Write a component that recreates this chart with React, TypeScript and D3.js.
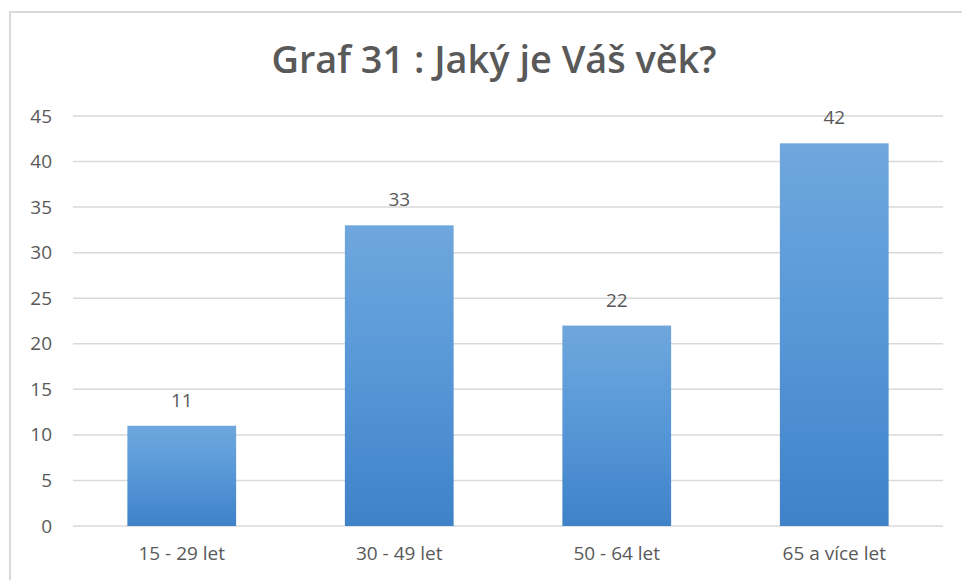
import React, { useRef, useEffect } from 'react';
import * as d3 from 'd3';

const categories = ['15 - 29 let', '30 - 49 let', '50 - 64 let', '65 a více let'];
const values = [11, 33, 22, 42];
const yTicks = [0, 5, 10, 15, 20, 25, 30, 35, 40, 45];
const title = 'Graf 31 : Jaký je Váš věk?';

const W = 962;
const H = 580;

const App = () => {
  const svgRef = useRef<SVGSVGElement>(null);

  useEffect(() => {
    const svg = d3.select(svgRef.current);
    svg.selectAll('*').remove();

    const margin = { top: 116, right: 19, bottom: 54, left: 73 };
    const width = W - margin.left - margin.right;
    const height = H - margin.top - margin.bottom;
    const font = "'Open Sans', 'Liberation Sans', sans-serif";
    const textColor = '#595959';

    const defs = svg.append('defs');
    const grad = defs.append('linearGradient')
      .attr('id', 'barGrad')
      .attr('x1', 0).attr('y1', 0).attr('x2', 0).attr('y2', 1);
    grad.append('stop').attr('offset', '0%').attr('stop-color', '#6fa7dd');
    grad.append('stop').attr('offset', '50%').attr('stop-color', '#5697d7');
    grad.append('stop').attr('offset', '100%').attr('stop-color', '#3f82c8');

    svg.append('rect')
      .attr('width', W).attr('height', H).attr('fill', '#fff');

    // chart frame
    svg.append('rect')
      .attr('x', 10).attr('y', 12)
      .attr('width', W + 20).attr('height', H + 20)
      .attr('fill', 'none')
      .attr('stroke', '#d9d9d9')
      .attr('stroke-width', 2);

    svg.append('text')
      .attr('x', 494)
      .attr('y', 73)
      .attr('text-anchor', 'middle')
      .attr('font-family', font)
      .attr('font-weight', 600)
      .attr('font-size', 37)
      .attr('fill', textColor)
      .attr('textLength', 445)
      .attr('lengthAdjust', 'spacingAndGlyphs')
      .text(title);

    const g = svg.append('g')
      .attr('transform', `translate(${margin.left},${margin.top})`);

    const x = d3.scaleBand<string>()
      .domain(categories)
      .range([0, width])
      .paddingInner(0.5)
      .paddingOuter(0.25);

    const y = d3.scaleLinear()
      .domain([0, 45])
      .range([height, 0]);

    // gridlines
    g.selectAll('.grid')
      .data(yTicks)
      .enter().append('line')
      .attr('x1', 0).attr('x2', width)
      .attr('y1', d => y(d)).attr('y2', d => y(d))
      .attr('stroke', '#d9d9d9')
      .attr('stroke-width', 1.5);

    const yAxis = g.append('g')
      .call(d3.axisLeft(y).tickValues(yTicks).tickSize(0).tickPadding(21));
    yAxis.select('.domain').remove();
    yAxis.selectAll('text')
      .attr('font-family', font)
      .attr('font-size', 19)
      .attr('fill', textColor);

    g.selectAll('.bar')
      .data(values)
      .enter().append('rect')
      .attr('class', 'bar')
      .attr('x', (d, i) => x(categories[i])!)
      .attr('y', d => y(d))
      .attr('width', x.bandwidth())
      .attr('height', d => height - y(d))
      .attr('fill', 'url(#barGrad)');

    g.selectAll('.label')
      .data(values)
      .enter().append('text')
      .attr('x', (d, i) => x(categories[i])! + x.bandwidth() / 2)
      .attr('y', d => y(d) - 19)
      .attr('text-anchor', 'middle')
      .attr('font-family', font)
      .attr('font-size', 19)
      .attr('fill', textColor)
      .text(d => d);

    const xAxis = g.append('g')
      .attr('transform', `translate(0,${height})`)
      .call(d3.axisBottom(x).tickSize(0).tickPadding(21));
    xAxis.select('.domain').remove();
    xAxis.selectAll('text')
      .attr('font-family', font)
      .attr('font-size', 19)
      .attr('fill', textColor);
  }, []);

  return (
    <svg
      ref={svgRef}
      width={W}
      height={H}
      style={{ position: 'absolute', left: 0, top: 0, display: 'block' }}
    />
  );
};

export default App;
